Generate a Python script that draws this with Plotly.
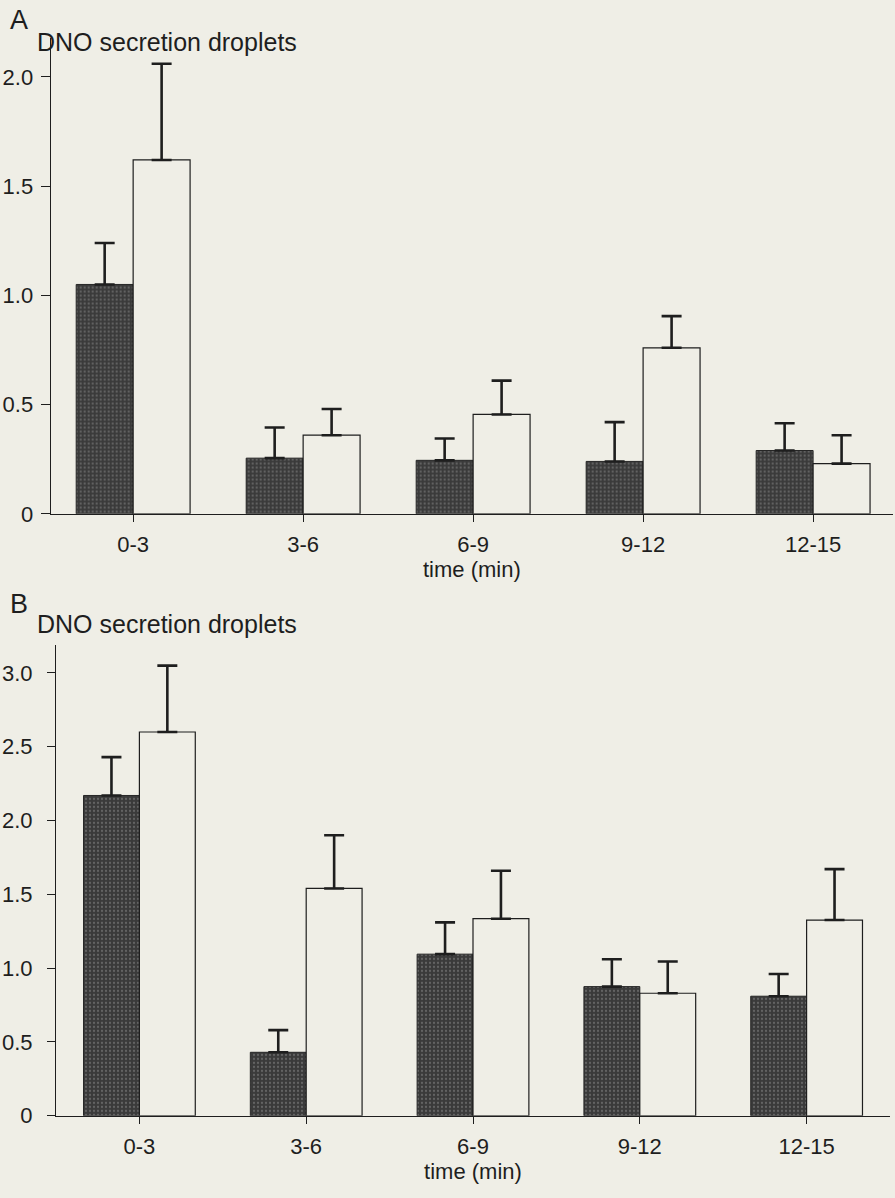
import plotly.graph_objects as go

categories = ["0-3", "3-6", "6-9", "9-12", "12-15"]

# Panel A
a_dark = [1.05, 0.255, 0.245, 0.24, 0.29]
a_dark_err = [0.19, 0.14, 0.10, 0.18, 0.125]
a_white = [1.62, 0.36, 0.455, 0.76, 0.23]
a_white_err = [0.44, 0.12, 0.155, 0.145, 0.13]

# Panel B
b_dark = [2.17, 0.43, 1.095, 0.875, 0.81]
b_dark_err = [0.26, 0.15, 0.215, 0.185, 0.15]
b_white = [2.60, 1.54, 1.335, 0.83, 1.326]
b_white_err = [0.45, 0.36, 0.325, 0.215, 0.345]

a_ticks = [0, 0.5, 1.0, 1.5, 2.0]
a_ticktext = ["0", "0.5", "1.0", "1.5", "2.0"]
b_ticks = [0, 0.5, 1.0, 1.5, 2.0, 2.5, 3.0]
b_ticktext = ["0", "0.5", "1.0", "1.5", "2.0", "2.5", "3.0"]

BG = "#efeee6"
INK = "#1e1e1e"
FONT = "Liberation Sans, Arial, Helvetica, sans-serif"
W, H = 895, 1198

dark_marker = dict(
    color="#3a3a3a",
    line=dict(color="#262626", width=1),
    pattern=dict(shape=".", fgcolor="#8c8c8c", size=4, solidity=0.25, fillmode="overlay"),
)
white_marker = dict(color=BG, line=dict(color=INK, width=1.2))


def err(vals):
    return dict(type="data", symmetric=False, array=vals, arrayminus=[0] * len(vals),
                color=INK, thickness=2.6, width=10)


fig = go.Figure()
fig.add_trace(go.Bar(x=categories, y=a_dark, marker=dark_marker, error_y=err(a_dark_err),
                     xaxis="x", yaxis="y", showlegend=False))
fig.add_trace(go.Bar(x=categories, y=a_white, marker=white_marker, error_y=err(a_white_err),
                     xaxis="x", yaxis="y", showlegend=False))
fig.add_trace(go.Bar(x=categories, y=b_dark, marker=dark_marker, error_y=err(b_dark_err),
                     xaxis="x2", yaxis="y2", showlegend=False))
fig.add_trace(go.Bar(x=categories, y=b_white, marker=white_marker, error_y=err(b_white_err),
                     xaxis="x2", yaxis="y2", showlegend=False))


def px_x(p):
    return p / W


def px_y(p):
    return 1 - p / H


xcommon = dict(showline=True, linecolor=INK, linewidth=1.2, ticks="outside", ticklen=7,
               tickcolor=INK, tickwidth=1, showgrid=False, zeroline=False,
               tickfont=dict(size=22, family=FONT, color=INK), type="category",
               ticklabelstandoff=4)
ycommon = dict(showline=True, linecolor=INK, linewidth=1.2, ticks="outside",
               tickcolor=INK, tickwidth=1, showgrid=False, zeroline=False,
               tickfont=dict(size=22, family=FONT, color=INK))

fig.update_layout(
    width=W, height=H,
    margin=dict(l=0, r=0, t=0, b=0),
    paper_bgcolor=BG, plot_bgcolor=BG,
    barmode="group", bargap=0.33, bargroupgap=0,
    font=dict(family=FONT, color=INK),
    xaxis=dict(domain=[px_x(50.7), px_x(893)], anchor="y", range=[-0.485, 4.47],
               title=dict(text="time (min)", font=dict(size=22, family=FONT, color=INK), standoff=2),
               **xcommon),
    yaxis=dict(domain=[px_y(519.5), px_y(38)], anchor="x", range=[0, 2.18],
               tickvals=a_ticks, ticktext=a_ticktext, ticklen=9, ticklabelstandoff=3, **ycommon),
    xaxis2=dict(domain=[px_x(56), px_x(890)], anchor="y2", range=[-0.5, 4.5],
                title=dict(text="time (min)", font=dict(size=22, family=FONT, color=INK), standoff=2),
                **xcommon),
    yaxis2=dict(domain=[px_y(1128), px_y(652)], anchor="x2", range=[0, 3.19],
                tickvals=b_ticks, ticktext=b_ticktext, ticklen=8, ticklabelstandoff=10, **ycommon),
    annotations=[
        dict(text="A", x=px_x(19), y=px_y(20), xref="paper", yref="paper", showarrow=False,
             xanchor="center", yanchor="middle", font=dict(size=27, family=FONT, color=INK)),
        dict(text="DNO secretion droplets", x=px_x(35), y=px_y(42), xref="paper", yref="paper",
             showarrow=False, xanchor="left", yanchor="middle",
             font=dict(size=25, family=FONT, color=INK)),
        dict(text="B", x=px_x(19), y=px_y(611), xref="paper", yref="paper", showarrow=False,
             xanchor="center", yanchor="middle", font=dict(size=27, family=FONT, color=INK)),
        dict(text="DNO secretion droplets", x=px_x(35), y=px_y(631), xref="paper", yref="paper",
             showarrow=False, xanchor="left", yanchor="middle",
             font=dict(size=25, family=FONT, color=INK)),
    ],
)

page_css = (
    "document.documentElement.style.margin='0';"
    "document.body.style.margin='0';"
    "document.documentElement.style.background='" + BG + "';"
    "document.body.style.background='" + BG + "';"
)

fig.write_html("out.html", config={"displayModeBar": False}, post_script=page_css)
